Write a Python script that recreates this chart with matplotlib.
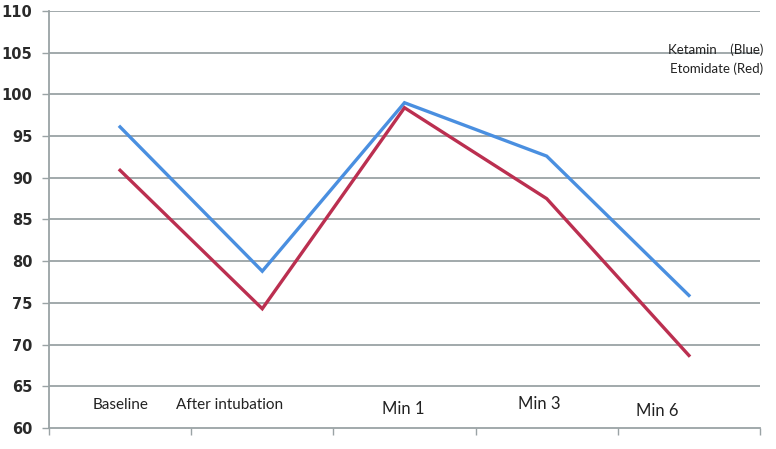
import matplotlib
matplotlib.use("Agg")
from matplotlib import pyplot as plt
import numpy as np

# data
categories = ["Baseline", "After intubation", "Min 1", "Min 3", "Min 6"]
ketamin = [96.1, 78.8, 99.0, 92.6, 75.9]
etomidate = [90.9, 74.3, 98.4, 87.5, 68.7]

# label placement (data coords): x offset from category, y value, size
label_dx = [0.0, -0.23, -0.01, -0.05, -0.22]
label_y = [62.7, 62.7, 62.3, 62.9, 62.0]
label_fs = [11, 11, 12, 12, 12]

x = np.arange(len(categories))

fig = plt.figure(figsize=(7.76, 4.49), dpi=100)
ax = fig.add_axes([0.0631, 0.0468, 0.9163, 0.9287])

grid_col = "#9aa3a5"
ax.set_ylim(60, 110)
ax.set_xlim(-0.5, 4.5)
ax.set_yticks(np.arange(60, 111, 5))
for v in np.arange(65, 111, 5):
    ax.axhline(v, color=grid_col, lw=1.3, zorder=1)

ax.plot(x, ketamin, color="#4a8fe0", lw=2.4, solid_joinstyle="miter", zorder=3)
ax.plot(x, etomidate, color="#bb2f50", lw=2.4, solid_joinstyle="miter", zorder=3)

for i, name in enumerate(categories):
    ax.text(x[i] + label_dx[i], label_y[i], name, ha="center", va="center",
            fontsize=label_fs[i], family="Lato", color="#222222")

ax.text(1.005, 0.885, "Ketamin    (Blue)\nEtomidate (Red)", transform=ax.transAxes,
        ha="right", va="center", fontsize=9.5, family="Lato", color="#222222",
        linespacing=1.6, clip_on=False)

for s in ["top", "right"]:
    ax.spines[s].set_visible(False)
ax.spines["left"].set_color(grid_col)
ax.spines["bottom"].set_color(grid_col)
ax.spines["left"].set_linewidth(1.3)
ax.spines["bottom"].set_linewidth(1.3)

ax.set_xticks(np.arange(-0.5, 4.6, 1.0))
ax.set_xticklabels([])
ax.tick_params(axis="x", length=5, color=grid_col, width=1)
ax.tick_params(axis="y", length=5, color=grid_col, width=1, labelsize=10.5,
               labelcolor="#2a2a2a", pad=7)
for lab in ax.get_yticklabels():
    lab.set_fontweight("bold")

fig.savefig("out.png", dpi=100)
